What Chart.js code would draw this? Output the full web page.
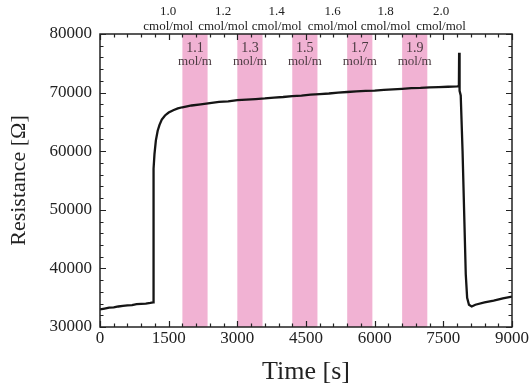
<!DOCTYPE html>
<html>
<head>
<meta charset="utf-8">
<script src="https://cdn.jsdelivr.net/npm/chart.js@4"></script>
<style>
html,body{margin:0;padding:0;background:#fff;}
canvas{display:block;}
</style>
</head>
<body>
<canvas id="c" width="530" height="388"></canvas>
<script>
// ---- data ----
const timeS = [0,100,200,300,400,500,600,700,800,900,1000,1100,1160,1170,1190,1220,1260,1300,1350,1420,1500,1600,1700,1800,2000,2200,2400,2600,2800,3000,3200,3400,3600,3800,4000,4200,4400,4600,4800,5000,5200,5400,5600,5800,6000,6200,6400,6600,6800,7000,7200,7400,7600,7800,7840,7845,7855,7880,7920,7960,7990,8020,8060,8120,8200,8400,8600,8800,9000];
const resistance = [33000,33150,33300,33350,33500,33600,33700,33750,33900,33950,34000,34100,34200,57000,59500,61800,63500,64500,65400,66100,66600,67000,67300,67500,67800,68000,68200,68400,68500,68700,68800,68900,69000,69150,69250,69400,69500,69650,69750,69850,70000,70100,70200,70300,70350,70450,70550,70650,70750,70800,70900,70950,71000,71050,71100,76800,70300,69500,60000,48000,39000,35000,33800,33500,33800,34200,34500,34900,35200];

// gas exposure bands (s)
const bandStart = [1800,3000,4200,5400,6600];
const bandEnd   = [2350,3550,4750,5950,7150];
const bandConc  = ['1.1','1.3','1.5','1.7','1.9'];
const bandUnit  = ['mol/m','mol/m','mol/m','mol/m','mol/m'];

// labels above the plot (centered between bands)
const topLabelX    = [1490,2690,3860,5080,6240,7450];
const topLabelConc = ['1.0','1.2','1.4','1.6','1.8','2.0'];
const topLabelUnit = 'cmol/mol';

const xTickLabels = [0,1500,3000,4500,6000,7500,9000];
const yTickLabels = [30000,40000,50000,60000,70000,80000];

const SERIF = '"Liberation Serif", "DejaVu Serif", serif';

const decor = {
  id: 'decor',
  beforeDatasetsDraw(chart) {
    const {ctx, chartArea: a, scales: {x}} = chart;
    ctx.save();
    ctx.fillStyle = '#f1b2d3';
    for (let i = 0; i < bandStart.length; i++) {
      const x0 = x.getPixelForValue(bandStart[i]);
      const x1 = x.getPixelForValue(bandEnd[i]);
      ctx.fillRect(x0, a.top, x1 - x0, a.bottom - a.top);
    }
    // band labels
    ctx.fillStyle = '#4a3a40';
    ctx.textAlign = 'center';
    ctx.textBaseline = 'middle';
    for (let i = 0; i < bandStart.length; i++) {
      const cx = x.getPixelForValue((bandStart[i] + bandEnd[i]) / 2);
      ctx.font = '14px ' + SERIF;
      ctx.fillText(bandConc[i], cx, 48);
      ctx.font = '13px ' + SERIF;
      ctx.fillText(bandUnit[i], cx, 62);
    }
    ctx.restore();
  },
  afterDatasetsDraw(chart) {
    const {ctx, chartArea: a, scales: {x, y}} = chart;
    ctx.save();
    ctx.strokeStyle = '#222';
    ctx.lineWidth = 1.5;
    ctx.strokeRect(a.left, a.top, a.right - a.left, a.bottom - a.top);
    ctx.lineWidth = 1.2;
    ctx.beginPath();
    for (let v = 0; v <= 9000; v += 300) {
      const px = Math.round(x.getPixelForValue(v)) + 0.5;
      const len = (v % 1500 === 0) ? 6 : 3.5;
      ctx.moveTo(px, a.bottom); ctx.lineTo(px, a.bottom - len);
      ctx.moveTo(px, a.top); ctx.lineTo(px, a.top + len);
    }
    for (let v = 30000; v <= 80000; v += 2000) {
      const py = Math.round(y.getPixelForValue(v)) + 0.5;
      const len = (v % 10000 === 0) ? 6 : 3.5;
      ctx.moveTo(a.left, py); ctx.lineTo(a.left + len, py);
      ctx.moveTo(a.right, py); ctx.lineTo(a.right - len, py);
    }
    ctx.stroke();
    // top labels
    ctx.fillStyle = '#222';
    ctx.textAlign = 'center';
    ctx.textBaseline = 'middle';
    for (let i = 0; i < topLabelX.length; i++) {
      const cx = x.getPixelForValue(topLabelX[i]);
      ctx.font = '13px ' + SERIF;
      ctx.fillText(topLabelConc[i], cx, 12);
      ctx.fillText(topLabelUnit, cx, 27);
    }
    ctx.restore();
  }
};

new Chart(document.getElementById('c'), {
  type: 'line',
  data: {
    datasets: [{
      data: timeS.map((t, i) => ({x: t, y: resistance[i]})),
      borderColor: '#151515',
      borderWidth: 2.3,
      pointRadius: 0,
      tension: 0,
      fill: false
    }]
  },
  options: {
    responsive: false,
    animation: false,
    layout: {padding: {top: 34, right: 18, left: 0, bottom: 0}},
    plugins: {legend: {display: false}, tooltip: {enabled: false}},
    scales: {
      x: {
        type: 'linear', min: 0, max: 9000,
        afterBuildTicks(s) { s.ticks = xTickLabels.map(v => ({value: v})); },
        afterFit(s) { s.height = 61; },
        grid: {display: false, drawTicks: false},
        border: {display: false},
        ticks: {color: '#222', font: {family: SERIF, size: 17}, padding: 1, maxRotation: 0, autoSkip: false, callback: v => String(v)},
        title: {display: true, text: 'Time [s]', color: '#222', font: {family: SERIF, size: 26}, padding: {top: 0, bottom: 0}}
      },
      y: {
        type: 'linear', min: 30000, max: 80000,
        afterBuildTicks(s) { s.ticks = yTickLabels.map(v => ({value: v})); },
        afterFit(s) { s.width = 100; },
        grid: {display: false, drawTicks: false},
        border: {display: false},
        ticks: {color: '#222', font: {family: SERIF, size: 17}, padding: 8, callback: v => String(v)},
        title: {display: true, text: 'Resistance [Ω]', color: '#222', font: {family: SERIF, size: 22}, padding: {top: 6, bottom: 0}}
      }
    }
  },
  plugins: [decor]
});
</script>
</body>
</html>
